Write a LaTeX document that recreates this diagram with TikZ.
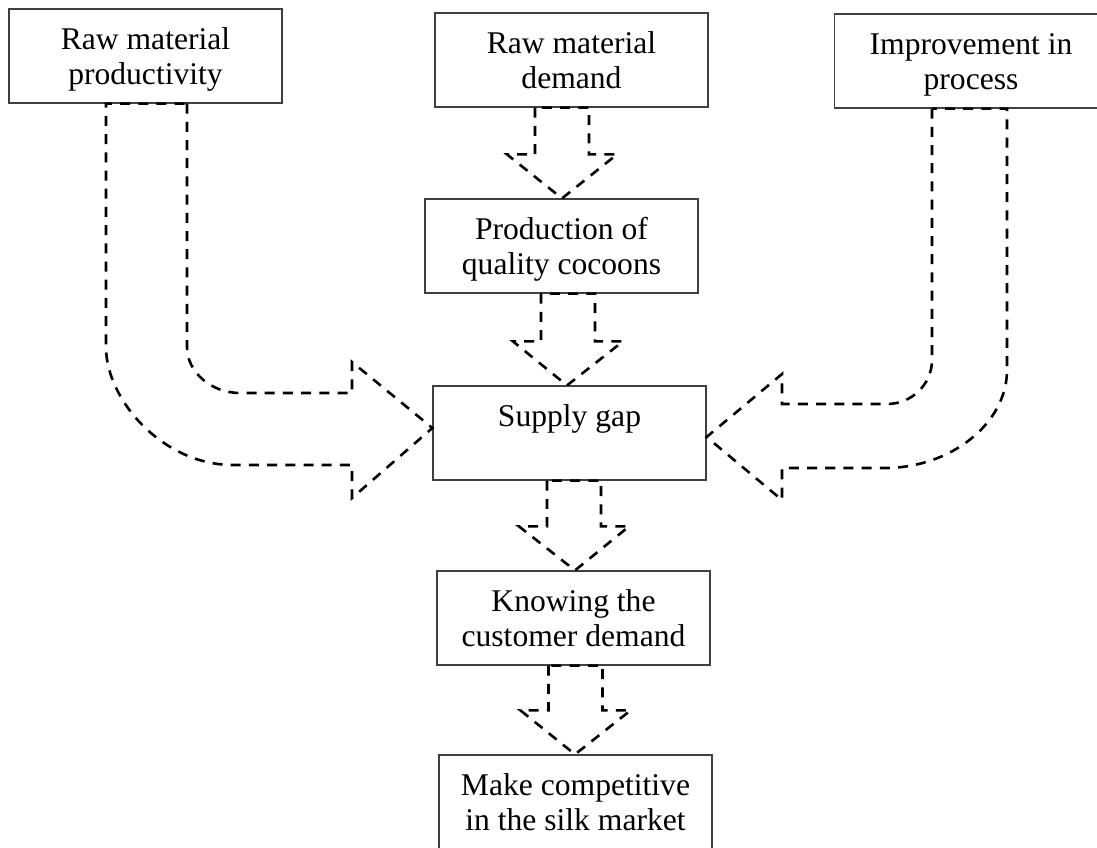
\documentclass[tikz,border=0pt]{standalone}
\usepackage{fontspec}
\setmainfont{Liberation Serif}
\usetikzlibrary{calc}
\tikzset{
  box/.style={draw=black!75, line width=0.6pt, minimum width=136.5pt, minimum height=47pt, inner sep=0pt},
  lbl/.style={font=\fontsize{15.8}{17.5}\selectfont, align=center, inner sep=0pt, anchor=north},
  flow/.style={draw=black, line width=1.3pt, dash pattern=on 5pt off 4.1pt, line join=miter},
}
\newcommand{\blockarrow}[2]{%
  \draw[flow] let \p1=(#1), \p2=(#2) in
    (\x1-13.5pt,\y1) -- (\x1-13.5pt,\y2+22pt) -- (\x1-27.5pt,\y2+22pt) -- (\x2,\y2)
    -- (\x1+27.5pt,\y2+22pt) -- (\x1+13.5pt,\y2+22pt) -- (\x1+13.5pt,\y1) -- cycle;}
\begin{document}
\begin{tikzpicture}[x=0.5pt,y=-0.5pt]
\path[fill=white, use as bounding box] (0,0) rectangle (1097,847);
% boxes
\node[box] (b1) at (145.5,56) {};
\node[box] (b2) at (571.5,60) {};
\node[box] (b3) at (971,61) {};
\node[box] (b4) at (561.5,246) {};
\node[box] (b5) at (569.5,433) {};
\node[box] (b6) at (573.5,618) {};
\node[box] (b7) at (575.5,802) {};
% texts
\node[lbl] (t1) at ($(b1.north)+(0,16.5)$) {\strut Raw material\\\strut productivity};
\node[lbl] (t2) at ($(b2.north)+(0,16.5)$) {\strut Raw material\\\strut demand};
\node[lbl] (t3) at ($(b3.north)+(0,16.5)$) {\strut Improvement in\\\strut process};
\node[lbl] (t4) at ($(b4.north)+(0,16.5)$) {\strut Production of\\\strut quality cocoons};
\node[lbl] (t5) at ($(b5.north)+(0,16.5)$) {\strut Supply gap};
\node[lbl] (t6) at ($(b6.north)+(0,16.5)$) {\strut Knowing the\\\strut customer demand};
\node[lbl] (t7) at ($(b7.north)+(0,16.5)$) {\strut Make competitive\\\strut in the silk market};
% straight block arrows
\blockarrow{[xshift=-4.75pt]b2.south}{[xshift=0.25pt]b4.north}
\blockarrow{[xshift=3.25pt]b4.south}{[xshift=-1.25pt]b5.north}
\blockarrow{[xshift=2.25pt]b5.south}{[xshift=0.75pt]b6.north}
\blockarrow{[xshift=1pt]b6.south}{[xshift=-0.25pt]b7.north}
% bent arrow left
\draw[flow] ($(b1.south)+(41.5,0)$) -- (187,347) .. controls (187,372) and (211,393) .. (240,393)
  -- (352,393) -- (352,362) -- ([yshift=2.5pt]b5.west) -- (352,498) -- (352,465) -- (233,465)
  .. controls (163,465) and (106,400) .. (106,347) -- ($(b1.south)+(-39.5,0)$) -- cycle;
% bent arrow right
\draw[flow] ($(b3.south)+(-39,0)$) -- (932,360) .. controls (932,384) and (912,404) .. (887,404)
  -- (782,404) -- (782,374) -- ([yshift=-2pt]b5.east) -- (782,500) -- (782,468) -- (885,468)
  .. controls (950,468) and (1007,424) .. (1007,370) -- ($(b3.south)+(36,0)$) -- cycle;
\end{tikzpicture}
\end{document}
